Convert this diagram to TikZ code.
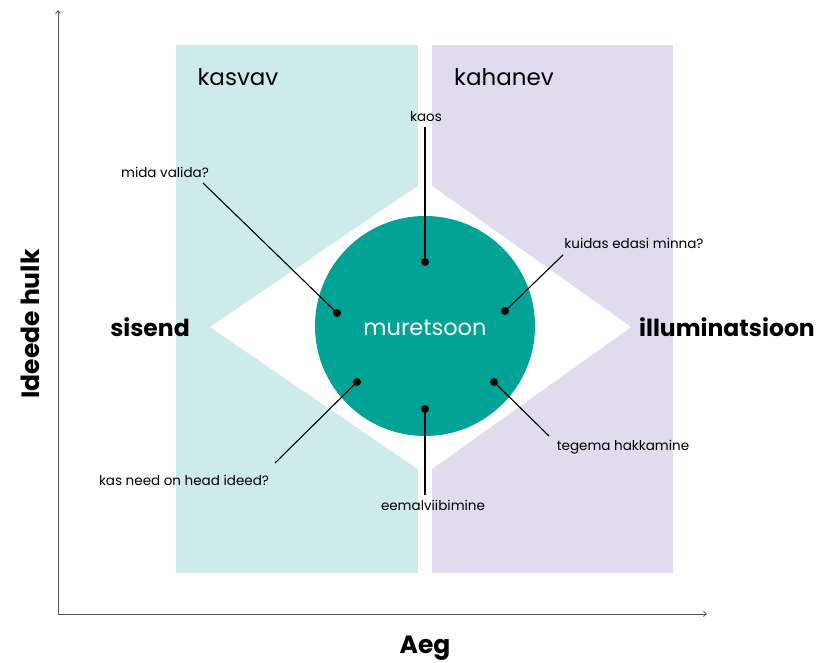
\documentclass[tikz,border=0pt]{standalone}
\usepackage{fontspec}
\setmainfont{Poppins}
\usetikzlibrary{arrows.meta}
\definecolor{growbg}{HTML}{CDEBE9}
\definecolor{shrinkbg}{HTML}{E0DCEE}
\definecolor{worry}{HTML}{00A396}
\definecolor{axisgray}{HTML}{555555}
\tikzset{
  axis/.style={draw=axisgray, line width=0.8pt, -{Straight Barb[length=3pt,width=5pt]}},
  pin/.style={circle, fill=black, inner sep=0pt, minimum size=8pt},
  lead/.style={draw=black, line width=1.1pt},
  smalllabel/.style={font=\fontsize{13.5}{16}\selectfont, inner sep=1pt},
  phase/.style={font=\fontsize{23}{27}\selectfont},
  side/.style={font=\fontsize{23.5}{28}\selectfont\bfseries},
  axislabel/.style={font=\fontsize{25}{30}\selectfont\bfseries},
}
\begin{document}
\begin{tikzpicture}[x=1pt,y=-1pt]
\useasboundingbox (0,0) rectangle (819,663);
% background bands
\fill[growbg] (176,45) rectangle (418,573);
\fill[shrinkbg] (432,45) rectangle (673,573);
% white diamond
\fill[white] (210,327) -- (425,181) -- (631,327) -- (425,474) -- cycle;
% worry zone
\node[circle, fill=worry, minimum size=220pt, inner sep=0pt] (zone) at (425,326) {};
\node[font=\fontsize{22.5}{27}\selectfont, text=white] (zonetext) at (425,328) {muretsoon};
% axes
\coordinate (origin) at (58,614);
\coordinate (ytop) at (58,10);
\coordinate (xend) at (707,614);
\draw[axis] (origin) -- (ytop);
\draw[axis] (origin) -- (xend);
\node[axislabel, rotate=90] (ylab) at (30,324) {Ideede hulk};
\node[axislabel] (xlab) at (425,648) {Aeg};
% band titles
\node[phase] (grow) at (238,77) {kasvav};
\node[phase] (shrink) at (504,77) {kahanev};
\node[side] (input) at (150,327) {sisend};
\node[side] (output) at (727,327) {illuminatsioon};
% pins in the zone
\node[pin] (p1) at (425,262) {};
\node[pin] (p2) at (337,313) {};
\node[pin] (p3) at (505,311) {};
\node[pin] (p4) at (357,382) {};
\node[pin] (p5) at (494,382) {};
\node[pin] (p6) at (425,409) {};
% labels
\node[smalllabel] (l1) at (426,117) {kaos};
\node[smalllabel] (l2) at (165,172) {mida valida?};
\node[smalllabel] (l3) at (634,243) {kuidas edasi minna?};
\node[smalllabel] (l4) at (184,480) {kas need on head ideed?};
\node[smalllabel] (l5) at (623,447) {tegema hakkamine};
\node[smalllabel] (l6) at (433,505) {eemalviibimine};
% leader lines
\coordinate (c1) at (425,127);
\coordinate (c2) at (203,183);
\coordinate (c3) at (563,255);
\coordinate (c4) at (275,463);
\coordinate (c5) at (549,436);
\coordinate (c6) at (425,495);
\draw[lead] (c1) -- (p1.center);
\draw[lead] (c2) -- (p2.center);
\draw[lead] (c3) -- (p3.center);
\draw[lead] (c4) -- (p4.center);
\draw[lead] (c5) -- (p5.center);
\draw[lead] (c6) -- (p6.center);
\end{tikzpicture}
\end{document}
